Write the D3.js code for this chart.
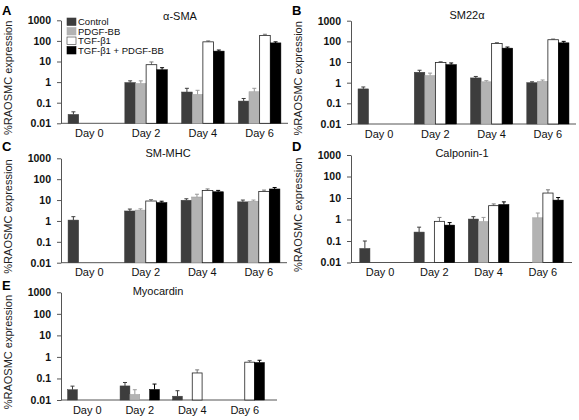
<!DOCTYPE html>
<html><head><meta charset="utf-8">
<script src="https://cdn.jsdelivr.net/npm/d3@7"></script>
<style>
html,body{margin:0;padding:0;background:#fff;}
svg{display:block;font-family:"Liberation Sans",Arial,sans-serif;}
</style></head>
<body><svg id="c" width="579" height="420"></svg>
<script>
// ---- data ----
const days = ["Day 0", "Day 2", "Day 4", "Day 6"];
const seriesNames = ["Control", "PDGF-BB", "TGF-β1", "TGF-β1 + PDGF-BB"];
const yTicks = [0.01, 0.1, 1, 10, 100, 1000];
const yTickLabels = ["0.01", "0.1", "1", "10", "100", "1000"];

// rows = series (Control, PDGF-BB, TGF-β1, TGF-β1 + PDGF-BB), columns = days
const smaMean = [[0.027, 0.95, 0.33, 0.12], [null, 0.85, 0.25, 0.34], [null, 7.0, 90, 185], [null, 4.0, 32, 80]];
const smaErr  = [[0.036, 1.15, 0.5, 0.16], [null, 1.15, 0.4, 0.5], [null, 9.5, 100, 210], [null, 5.0, 36, 90]];
const sm22Mean = [[0.5, 3.2, 1.7, 1.0], [null, 2.2, 1.1, 1.15], [null, 9.5, 78, 120], [null, 7.5, 47, 85]];
const sm22Err  = [[0.62, 4.0, 2.0, 1.1], [null, 2.9, 1.25, 1.35], [null, 10.5, 88, 130], [null, 9.0, 53, 100]];
const smmhcMean = [[1.1, 3.0, 9.8, 8.2], [null, 3.3, 14, 8.8], [null, 9.0, 29, 26], [null, 7.6, 25, 34]];
const smmhcErr  = [[1.6, 3.7, 11.5, 10], [null, 3.8, 19, 10], [null, 10.5, 34, 30], [null, 8.8, 29, 40]];
const calMean = [[0.045, 0.26, 1.05, null], [null, null, 0.8, 1.2], [null, 0.82, 4.4, 17], [null, 0.55, 5.0, 8.0]];
const calErr  = [[0.1, 0.44, 1.35, null], [null, null, 1.25, 2.0], [null, 1.25, 5.3, 24], [null, 0.72, 6.6, 10.5]];
const myoMean = [[0.03, 0.045, 0.015, null], [null, 0.018, null, null], [null, null, 0.18, 0.57], [null, 0.031, null, 0.55]];
const myoErr  = [[0.044, 0.065, 0.027, null], [null, 0.03, null, null], [null, null, 0.25, 0.67], [null, 0.055, null, 0.7]];

// ---- styles / layout ----
const fills = ["#3d3d3d", "#b3b3b3", "#ffffff", "#000000"];
const errCol = ["#3d3d3d", "#999999", "#777777", "#000000"];

const panels = [
  {letter: "A", lx: 2, ly: 15, title: "α-SMA", tx: 180, ty: 20, mean: smaMean, err: smaErr,
   x0: 61, xr: [61, 288], lineEnd: 288, yTop: 20.3, yBot: 123.3, labX: 12, legend: true},
  {letter: "B", lx: 292, ly: 15, title: "SM22α", tx: 467, ty: 19, mean: sm22Mean, err: sm22Err,
   x0: 351, xr: [351, 576], lineEnd: 576, yTop: 20.7, yBot: 124, labX: 302},
  {letter: "C", lx: 2, ly: 151, title: "SM-MHC", tx: 168, ty: 157, mean: smmhcMean, err: smmhcErr,
   x0: 61, xr: [61, 287], lineEnd: 287, yTop: 158.3, yBot: 262.7, labX: 12},
  {letter: "D", lx: 292, ly: 151, title: "Calponin-1", tx: 462, ty: 157, mean: calMean, err: calErr,
   x0: 351, xr: [353, 570], lineEnd: 572, yTop: 155, yBot: 262.5, labX: 302},
  {letter: "E", lx: 2, ly: 290, title: "Myocardin", tx: 158, ty: 295, mean: myoMean, err: myoErr,
   x0: 61, xr: [61, 271], lineEnd: 277, yTop: 292.3, yBot: 400, labX: 12}
];

const svg = d3.select("#c");

panels.forEach(p => {
  const g = svg.append("g");
  const x = d3.scaleBand().domain(days).range(p.xr).paddingInner(0.25).paddingOuter(0.125);
  const xs = d3.scaleBand().domain(d3.range(seriesNames.length)).range([0, x.bandwidth()]);
  const y = d3.scaleLog().domain([0.01, 1000]).range([p.yBot, p.yTop]);

  // y axis
  const ya = g.append("g").attr("transform", `translate(${p.x0},0)`)
    .call(d3.axisLeft(y).tickValues(yTicks).tickFormat((d, i) => yTickLabels[i])
      .tickSize(4).tickSizeOuter(0).tickPadding(6));
  ya.select(".domain").attr("stroke", "#555");
  ya.selectAll(".tick line").attr("stroke", "#555");
  ya.selectAll("text").attr("font-size", 10.5).attr("font-weight", "bold")
    .attr("fill", "#111").attr("font-family", "'Liberation Sans', Arial, sans-serif");

  // x axis
  const xa = g.append("g").attr("transform", `translate(0,${p.yBot})`)
    .call(d3.axisBottom(x).tickSize(0).tickPadding(6));
  xa.select(".domain").remove();
  xa.selectAll("text").attr("font-size", 11).attr("fill", "#111")
    .attr("font-family", "'Liberation Sans', Arial, sans-serif");
  g.append("line").attr("x1", p.x0).attr("x2", p.lineEnd)
    .attr("y1", p.yBot).attr("y2", p.yBot).attr("stroke", "#555");

  // bars
  p.mean.forEach((row, s) => {
    row.forEach((v, i) => {
      if (v == null) return;
      const bx = x(days[i]) + xs(s), bw = xs.bandwidth();
      const e = p.err[s][i];
      if (e != null) {
        const cx = bx + bw / 2;
        g.append("line").attr("x1", cx).attr("x2", cx).attr("y1", y(v)).attr("y2", y(e))
          .attr("stroke", errCol[s]).attr("stroke-width", 1);
        g.append("line").attr("x1", cx - 2).attr("x2", cx + 2).attr("y1", y(e)).attr("y2", y(e))
          .attr("stroke", errCol[s]).attr("stroke-width", 1);
      }
      g.append("rect").attr("x", bx).attr("y", y(v))
        .attr("width", bw).attr("height", p.yBot - y(v))
        .attr("fill", fills[s])
        .attr("stroke", s === 2 ? "#222" : (s === 1 ? "#999" : fills[s]))
        .attr("stroke-width", s === 2 ? 0.8 : 0.5);
    });
  });

  // title
  g.append("text").attr("x", p.tx).attr("y", p.ty).attr("text-anchor", "middle")
    .attr("font-size", 11).attr("fill", "#111").text(p.title);
  // panel letter
  g.append("text").attr("x", p.lx).attr("y", p.ly).attr("font-size", 13)
    .attr("font-weight", "bold").attr("fill", "#000").text(p.letter);
  // y label
  g.append("text").attr("transform", `translate(${p.labX},${(p.yTop + p.yBot) / 2 + 6}) rotate(-90)`)
    .attr("text-anchor", "middle").attr("font-size", 11).attr("fill", "#222")
    .text("%RAOSMC expression");

  if (p.legend) {
    const lg = g.append("g").attr("transform", "translate(67,18)");
    seriesNames.forEach((n, i) => {
      lg.append("rect").attr("x", 0).attr("y", i * 9.5).attr("width", 9).attr("height", 7.5)
        .attr("fill", fills[i]).attr("stroke", i === 2 ? "#333" : fills[i]).attr("stroke-width", 0.6);
      lg.append("text").attr("x", 11).attr("y", i * 9.5 + 7.3).attr("font-size", 9.5)
        .attr("fill", "#111").text(n);
    });
  }
});
</script></body></html>
